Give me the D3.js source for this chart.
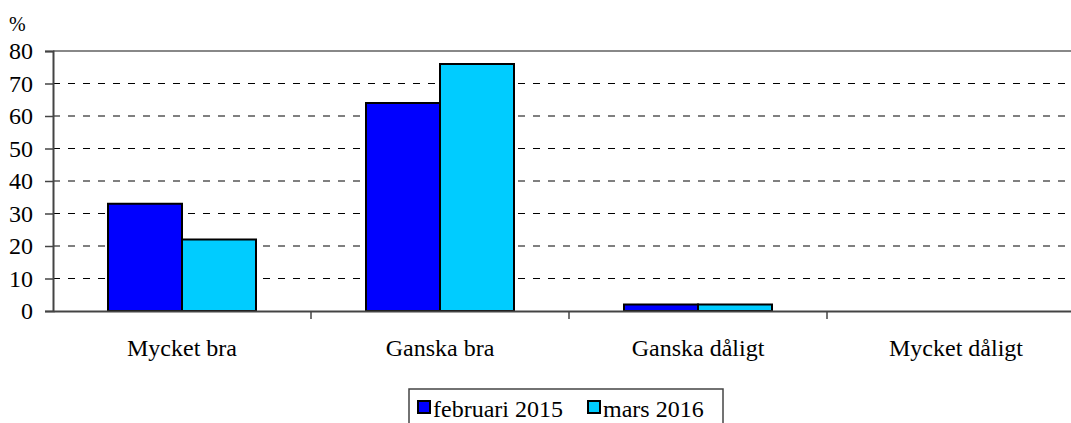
<!DOCTYPE html>
<html>
<head>
<meta charset="utf-8">
<script src="https://d3js.org/d3.v7.min.js"></script>
</head>
<body style="margin:0">
<svg id="chart" width="1071" height="423"></svg>
<script>
// chart data
const categories = ["Mycket bra", "Ganska bra", "Ganska dåligt", "Mycket dåligt"];
const seriesNames = ["februari 2015", "mars 2016"];
const feb2015 = [33, 64, 2, 0];
const mars2016 = [22, 76, 2, 0];
const yTicks = [0, 10, 20, 30, 40, 50, 60, 70, 80];
const colors = ["#0000ff", "#00ccff"];

const seriesValues = [feb2015, mars2016];
const fontName = "Liberation Serif";

const svg = d3.select("#chart");
const plotLeft = 53, plotRight = 1085, plotTop = 51, plotBottom = 311;

const x0 = d3.scaleBand().domain(categories).range([plotLeft, plotRight]);
const groupPad = 55;
const x1 = d3.scaleBand().domain(seriesNames).range([groupPad, x0.bandwidth() - groupPad]);
const y = d3.scaleLinear().domain([0, 80]).range([plotBottom, plotTop]);

// dashed grid lines
svg.append("g")
    .selectAll("line")
    .data(yTicks.filter(d => d > 0 && d < 80))
    .enter()
    .append("line")
    .attr("x1", plotLeft).attr("x2", plotRight)
    .attr("y1", d => y(d)).attr("y2", d => y(d))
    .attr("stroke", "#000")
    .attr("stroke-width", 1)
    .attr("stroke-dasharray", "7,8");

// top border
svg.append("line")
    .attr("x1", plotLeft).attr("x2", plotRight)
    .attr("y1", y(80)).attr("y2", y(80))
    .attr("stroke", "#888")
    .attr("stroke-width", 2);

// bars
const groups = svg.append("g")
    .selectAll("g")
    .data(categories)
    .enter()
    .append("g")
    .attr("transform", d => "translate(" + x0(d) + ",0)");

groups.selectAll("rect")
    .data((d, i) => seriesNames.map((s, j) => ({ s: s, j: j, v: seriesValues[j][i] })).filter(b => b.v > 0))
    .enter()
    .append("rect")
    .attr("x", d => x1(d.s))
    .attr("width", x1.bandwidth())
    .attr("y", d => y(d.v))
    .attr("height", d => y(0) - y(d.v))
    .attr("fill", d => colors[d.j])
    .attr("stroke", "#000")
    .attr("stroke-width", 2);

// y axis
const yAxis = svg.append("g")
    .attr("transform", "translate(" + plotLeft + ",0)")
    .call(d3.axisLeft(y).tickValues(yTicks).tickSize(8).tickPadding(12));
yAxis.select(".domain").attr("stroke", "#444").attr("stroke-width", 2);
yAxis.selectAll(".tick line").attr("stroke", "#444").attr("stroke-width", 1.5);
yAxis.selectAll(".tick text")
    .attr("font-family", fontName)
    .attr("font-size", 24)
    .attr("fill", "#000")
    .attr("dy", "0.33em");

// x axis
const xAxis = svg.append("g")
    .attr("transform", "translate(0," + plotBottom + ")")
    .call(d3.axisBottom(x0).tickSize(0).tickPadding(28));
xAxis.select(".domain").attr("stroke", "#444").attr("stroke-width", 2);
xAxis.selectAll(".tick text")
    .attr("font-family", fontName)
    .attr("font-size", 24)
    .attr("fill", "#000");

// category separator ticks
svg.append("g")
    .selectAll("line")
    .data(categories.slice(1))
    .enter()
    .append("line")
    .attr("x1", d => x0(d)).attr("x2", d => x0(d))
    .attr("y1", plotBottom).attr("y2", plotBottom + 8)
    .attr("stroke", "#444")
    .attr("stroke-width", 1.5);

// % label
svg.append("text")
    .attr("x", 9).attr("y", 31)
    .attr("font-family", fontName)
    .attr("font-size", 20)
    .text("%");

// legend
const legend = svg.append("g");
legend.append("rect")
    .attr("x", 409).attr("y", 389)
    .attr("width", 314).attr("height", 40)
    .attr("fill", "#fff")
    .attr("stroke", "#444")
    .attr("stroke-width", 1.5);

const legendX = [418, 588];
seriesNames.forEach((s, j) => {
    legend.append("rect")
        .attr("x", legendX[j]).attr("y", 401)
        .attr("width", 12).attr("height", 12)
        .attr("fill", colors[j])
        .attr("stroke", "#000")
        .attr("stroke-width", 2);
    legend.append("text")
        .attr("x", legendX[j] + 15).attr("y", 417)
        .attr("font-family", fontName)
        .attr("font-size", 24)
        .text(s);
});
</script>
</body>
</html>
